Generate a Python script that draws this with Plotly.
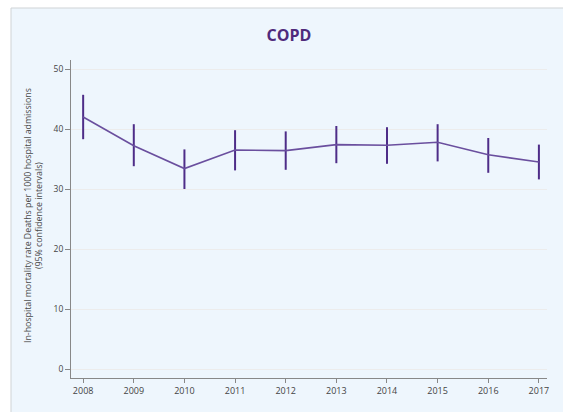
import plotly.graph_objects as go

years = [2008, 2009, 2010, 2011, 2012, 2013, 2014, 2015, 2016, 2017]
rate = [42.0, 37.2, 33.4, 36.5, 36.4, 37.4, 37.3, 37.8, 35.7, 34.5]
upper = [45.7, 40.8, 36.6, 39.8, 39.6, 40.5, 40.3, 40.8, 38.5, 37.4]
lower = [38.3, 33.8, 30.0, 33.1, 33.2, 34.3, 34.2, 34.6, 32.7, 31.6]
y_ticks = [0, 10, 20, 30, 40, 50]

err_plus = [u - r for u, r in zip(upper, rate)]
err_minus = [r - l for r, l in zip(rate, lower)]

W, H = 563, 412
L, R, T, B = 71, 16, 60, 34
pw, ph = W - L - R, H - T - B

def px(x):
    return (x - L) / pw

def py(y):
    return (H - B - y) / ph

fig = go.Figure()
fig.add_trace(go.Scatter(
    x=years, y=rate, mode="lines",
    line=dict(color="#6a4f9e", width=1.6),
    error_y=dict(type="data", symmetric=False, array=err_plus, arrayminus=err_minus,
                 width=0, thickness=2, color="#4e2d88"),
    hoverinfo="x+y", showlegend=False,
))

fig.add_shape(type="rect", xref="paper", yref="paper",
              x0=px(11), x1=px(600), y0=py(450), y1=py(8),
              fillcolor="#eef6fd", line=dict(color="#cfd3d6", width=1), layer="below")

fig.add_annotation(
    text="In-hospital mortality rate Deaths per 1000 hospital admissions<br>(95% confidence intervals)",
    xref="paper", yref="paper", x=px(33), y=py(216), textangle=-90,
    showarrow=False, font=dict(size=8.8, color="#4a4a4a", family="Open Sans"),
    xanchor="center", yanchor="middle",
)

fig.update_layout(
    width=W, height=H,
    margin=dict(l=L, r=R, t=T, b=B),
    paper_bgcolor="white", plot_bgcolor="white",
    font=dict(family="Open Sans", size=8, color="#444444"),
    title=dict(text="<b>COPD</b>", x=289 / W, xanchor="center", y=1 - 35 / H, yanchor="middle",
               font=dict(size=16, color="#4f2a7c", family="Open Sans")),
    xaxis=dict(range=[2007.76, 2017.16], tickvals=years, ticks="outside", ticklen=4,
               tickcolor="#888888", showline=True, linecolor="#888888", linewidth=1,
               showgrid=False, zeroline=False, tickfont=dict(size=9, color="#444444")),
    yaxis=dict(range=[-1.5, 51.5], tickvals=y_ticks, ticks="outside", ticklen=5,
               tickcolor="#888888", showline=True, linecolor="#888888", linewidth=1,
               showgrid=True, gridcolor="#ececec", zeroline=False,
               tickfont=dict(size=8.5, color="#444444")),
)

fig.write_html("out.html", config={"displayModeBar": False},
               post_script="document.body.style.margin='0';document.body.style.overflow='hidden';")
